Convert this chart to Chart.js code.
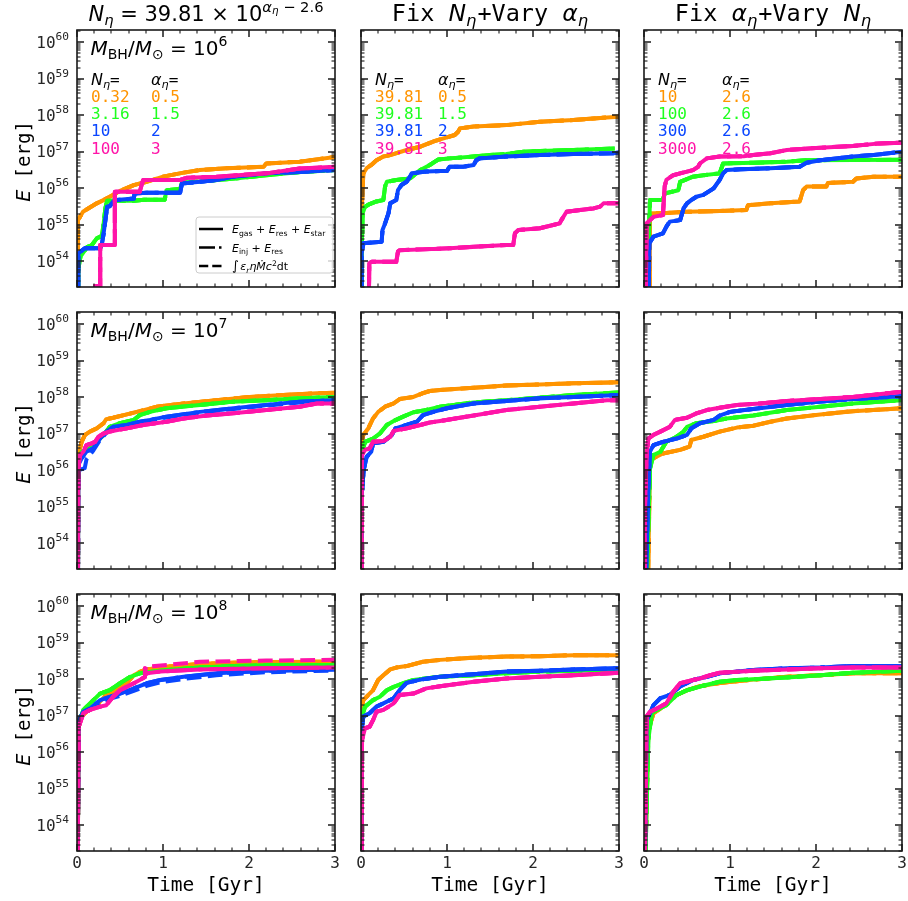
<!DOCTYPE html>
<html>
<head>
<meta charset="utf-8">
<script src="https://cdn.jsdelivr.net/npm/chart.js@4.4.1/dist/chart.umd.min.js"></script>
<style>
  html, body { margin: 0; padding: 0; background: #fff; }
  #fig { position: relative; width: 908px; height: 901px; overflow: hidden; }
  #fig canvas { position: absolute; left: 0; top: 0; }
</style>
</head>
<body>
<div id="fig"></div>
<script>
// ---------------------------------------------------------------------------
// Cumulative feedback energy E [erg] versus time [Gyr].
// Rows: black-hole mass 1e6, 1e7, 1e8 Msun.
// Columns: scaling relation, fixed N_eta, fixed alpha_eta.
// Each series is a list of [time (Gyr), energy (erg)] samples.
// ---------------------------------------------------------------------------

// ---- M_BH = 1e6, N_eta = 39.81 x 10^(alpha_eta - 2.6) ----
const bh6_scaling_orange = [[0.005,1e52],[0.01,1.35e55],[0.035,1.66e55],[0.07,2.29e55],[0.13,2.82e55],[0.23,3.89e55],[0.31,4.79e55],[0.38,5.89e55],[0.5,8.51e55],[0.66,1.23e56],[0.81,1.51e56],[1.0,2.09e56],[1.24,2.69e56],[1.43,3.16e56],[1.74,3.55e56],[2.17,3.89e56],[2.2,4.79e56],[2.59,5.37e56],[3.0,7.24e56]];
const bh6_scaling_green  = [[0.012,1e52],[0.015,6.03e53],[0.04,1.35e54],[0.12,2.51e54],[0.17,2.75e54],[0.23,4.27e54],[0.29,5.01e54],[0.31,1.1e55],[0.33,2.82e55],[0.35,4.57e55],[0.66,4.57e55],[0.78,4.9e55],[1.02,4.9e55],[1.04,8.91e55],[1.2,9.55e55],[1.22,1.41e56],[1.43,1.55e56],[1.8,1.82e56],[2.2,2.29e56],[2.6,2.82e56],[3.0,3.16e56]];
const bh6_scaling_blue   = [[0.012,1e52],[0.016,1.66e54],[0.09,2.29e54],[0.27,2.29e54],[0.29,3.09e54],[0.31,5.89e54],[0.34,2.04e55],[0.35,3.16e55],[0.38,3.24e55],[0.42,4.27e55],[0.46,4.79e55],[0.66,5.25e55],[0.67,7.24e55],[0.81,7.59e55],[1.2,7.59e55],[1.22,1.35e56],[1.43,1.51e56],[1.62,1.7e56],[1.82,2.09e56],[2.2,2.57e56],[2.59,2.82e56],[3.0,3.16e56]];
const bh6_scaling_magenta= [[0.19,2.1e53],[0.27,2.1e53],[0.27,2.82e54],[0.44,2.82e54],[0.44,8.13e55],[0.73,8.13e55],[0.75,1.2e56],[0.77,1.7e56],[1.2,1.7e56],[1.28,1.95e56],[1.62,2.09e56],[2.2,2.57e56],[2.59,3.47e56],[3.0,3.89e56]];

// ---- M_BH = 1e6, fixed N_eta ----
const bh6_fixN_orange = [[0.005,1e52],[0.008,2.57e55],[0.027,2.57e56],[0.066,3.55e56],[0.12,4.37e56],[0.18,5.89e56],[0.26,7.41e56],[0.34,8.13e56],[0.53,1.12e57],[0.69,1.38e57],[0.84,1.91e57],[0.96,2.34e57],[1.09,2.88e57],[1.13,3.55e57],[1.15,4.37e57],[1.31,4.9e57],[1.69,5.37e57],[2.08,6.61e57],[2.47,7.41e57],[2.86,8.71e57],[3.0,9.12e57]];
const bh6_fixN_green  = [[0.008,1e52],[0.012,5.89e54],[0.019,2.09e55],[0.047,3.16e55],[0.1,3.72e55],[0.18,4.37e55],[0.26,4.79e55],[0.28,1.12e56],[0.3,1.51e56],[0.41,1.7e56],[0.57,1.86e56],[0.69,3.16e56],[0.8,4.37e56],[0.86,5.37e56],[0.9,6.17e56],[1.03,6.61e56],[1.31,7.41e56],[1.5,8.13e56],[1.69,8.71e56],[1.89,1.0e57],[2.08,1.05e57],[2.47,1.12e57],[2.95,1.23e57]];
const bh6_fixN_blue   = [[0.005,1e52],[0.008,1.66e54],[0.027,3.16e54],[0.24,3.47e54],[0.25,7.24e54],[0.28,1.1e55],[0.32,2.09e55],[0.34,3.89e55],[0.41,4.79e55],[0.43,8.91e55],[0.47,1.23e56],[0.53,1.51e56],[0.57,2.09e56],[0.59,2.57e56],[0.76,2.88e56],[1.0,3.02e56],[1.03,3.89e56],[1.19,3.89e56],[1.31,4.37e56],[1.34,5.89e56],[1.38,6.61e56],[1.69,7.41e56],[2.08,8.13e56],[2.47,8.71e56],[2.93,9.12e56],[3.0,9.55e56]];
const bh6_fixN_magenta= [[0.085,1e52],[0.097,8.91e53],[0.12,9.77e53],[0.41,9.77e53],[0.43,1.86e54],[0.45,2.04e54],[0.72,2.14e54],[1.03,2.29e54],[1.31,2.51e54],[1.69,2.82e54],[1.77,2.82e54],[1.79,5.89e54],[1.83,7.24e54],[2.08,8.13e54],[2.31,1.1e55],[2.33,1.35e55],[2.39,2.29e55],[2.55,2.57e55],[2.7,2.82e55],[2.78,3.16e55],[2.82,3.89e55],[3.0,3.89e55]];

// ---- M_BH = 1e6, fixed alpha_eta ----
const bh6_fixAlpha_orange = [[0.062,1e52],[0.07,2.09e55],[0.22,2.09e55],[0.5,2.29e55],[0.88,2.4e55],[1.19,2.57e55],[1.21,3.47e55],[1.47,3.89e55],[1.81,4.37e55],[1.85,8.91e55],[1.89,1.12e56],[2.12,1.12e56],[2.14,1.41e56],[2.43,1.51e56],[2.47,1.86e56],[2.67,2.09e56],[3.0,2.09e56]];
const bh6_fixAlpha_green  = [[0.05,1e52],[0.06,1.0e55],[0.07,4.79e55],[0.22,4.79e55],[0.24,7.24e55],[0.4,8.91e55],[0.42,1.51e56],[0.57,2.09e56],[0.69,2.29e56],[0.88,2.57e56],[0.92,4.79e56],[1.27,5.01e56],[1.66,5.37e56],[1.89,5.89e56],[3.0,6.03e56]];
const bh6_fixAlpha_blue   = [[0.05,1e52],[0.062,3.16e54],[0.11,4.79e54],[0.22,5.89e54],[0.26,8.91e54],[0.3,1.23e55],[0.42,1.35e55],[0.46,2.82e55],[0.5,3.89e55],[0.55,4.79e55],[0.61,5.89e55],[0.69,6.61e55],[0.75,8.13e55],[0.81,1.0e56],[0.88,1.7e56],[0.92,2.57e56],[0.96,3.16e56],[1.12,3.31e56],[1.47,3.55e56],[1.81,3.89e56],[1.89,5.01e56],[2.05,5.89e56],[2.43,7.41e56],[2.67,8.13e56],[3.0,1.0e57]];
const bh6_fixAlpha_magenta= [[0.015,1e52],[0.03,1.1e55],[0.07,1.35e55],[0.11,1.66e55],[0.22,1.86e55],[0.24,1.12e56],[0.26,1.7e56],[0.34,2.29e56],[0.42,2.57e56],[0.5,2.88e56],[0.57,3.16e56],[0.63,3.89e56],[0.65,4.79e56],[0.73,6.61e56],[0.88,7.41e56],[1.16,7.59e56],[1.27,8.13e56],[1.47,9.12e56],[1.66,1.12e57],[2.05,1.29e57],[2.43,1.45e57],[2.74,1.7e57],[3.0,1.78e57]];

// ---- M_BH = 1e7, scaling relation ----
const bh7_scaling_orange = [[0.005,1e52],[0.012,1.74e56],[0.027,3.24e56],[0.054,6.03e56],[0.093,9.33e56],[0.15,1.15e57],[0.23,1.41e57],[0.31,1.95e57],[0.34,2.51e57],[0.42,2.75e57],[0.58,3.39e57],[0.73,4.17e57],[0.93,5.5e57],[1.24,6.76e57],[1.62,8.32e57],[2.01,1.02e58],[2.4,1.15e58],[2.79,1.29e58],[3.0,1.32e58]];
const bh7_scaling_green  = [[0.01,1e52],[0.016,1.74e56],[0.054,3.24e56],[0.15,3.98e56],[0.23,6.03e56],[0.31,9.33e56],[0.38,1.55e57],[0.5,1.95e57],[0.66,2.4e57],[0.73,3.24e57],[0.85,3.98e57],[1.04,5.01e57],[1.43,6.17e57],[1.82,7.59e57],[2.2,8.32e57],[2.59,9.33e57],[3.0,1.02e58]];
const bh7_scaling_blue   = [[0.01,1e52],[0.016,1.41e56],[0.054,2.14e56],[0.11,3.24e56],[0.19,3.98e56],[0.27,7.59e56],[0.34,1.15e57],[0.42,1.55e57],[0.58,1.74e57],[0.73,2.14e57],[0.85,2.4e57],[1.04,2.95e57],[1.43,3.98e57],[1.82,5.01e57],[2.2,6.17e57],[2.59,7.59e57],[3.0,8.32e57]];
const bh7_scaling_blue_integral = [[0.01,1e52],[0.016,1.0e56],[0.09,1.15e56],[0.11,2.0e56],[0.19,3.5e56],[0.27,6.9e56],[0.34,1.05e57],[0.42,1.45e57],[0.58,1.66e57],[0.73,2.0e57],[0.85,2.3e57],[1.04,2.8e57],[1.43,3.8e57],[1.82,4.8e57],[2.2,5.9e57],[2.59,7.2e57],[3.0,8.0e57]];
const bh7_scaling_magenta= [[0.01,1e52],[0.016,1.12e56],[0.035,2.63e56],[0.074,3.24e56],[0.11,4.9e56],[0.17,5.5e56],[0.21,6.03e56],[0.25,8.32e56],[0.31,1.02e57],[0.38,1.15e57],[0.58,1.41e57],[0.77,1.74e57],[1.04,2.14e57],[1.24,2.63e57],[1.51,3.16e57],[1.82,3.63e57],[2.2,4.47e57],[2.59,5.5e57],[2.79,6.76e57],[3.0,6.76e57]];

// ---- M_BH = 1e7, fixed N_eta ----
const bh7_fixN_orange = [[0.005,1e52],[0.008,6.03e56],[0.027,9.33e56],[0.085,1.41e57],[0.14,2.63e57],[0.2,3.98e57],[0.28,5.5e57],[0.38,6.76e57],[0.45,8.91e57],[0.61,1.02e58],[0.72,1.29e58],[0.8,1.48e58],[0.92,1.58e58],[1.31,1.82e58],[1.69,2.09e58],[2.08,2.24e58],[2.47,2.4e58],[3.0,2.57e58]];
const bh7_fixN_green  = [[0.008,1e52],[0.012,3.24e56],[0.047,6.03e56],[0.14,7.41e56],[0.22,1.02e57],[0.3,1.74e57],[0.38,2.24e57],[0.49,2.95e57],[0.61,3.89e57],[0.76,4.47e57],[0.92,5.5e57],[1.31,7.24e57],[1.69,8.32e57],[2.08,9.77e57],[2.47,1.15e58],[3.0,1.35e58]];
const bh7_fixN_blue   = [[0.005,1e52],[0.012,3.0e55],[0.019,4.9e55],[0.035,1.12e56],[0.066,2.34e56],[0.12,3.24e56],[0.14,5.5e56],[0.26,6.03e56],[0.36,9.33e56],[0.4,1.41e57],[0.53,1.74e57],[0.65,2.14e57],[0.72,3.24e57],[0.84,3.98e57],[1.0,5.01e57],[1.31,6.76e57],[1.69,7.94e57],[2.08,9.33e57],[2.47,1.02e58],[3.0,1.15e58]];
const bh7_fixN_magenta= [[0.005,1e52],[0.012,2.63e56],[0.047,3.63e56],[0.1,3.98e56],[0.14,6.03e56],[0.26,6.31e56],[0.34,8.32e56],[0.38,1.2e57],[0.53,1.41e57],[0.69,1.74e57],[0.8,2.04e57],[0.92,2.24e57],[1.31,3.16e57],[1.69,4.47e57],[2.08,5.5e57],[2.47,6.76e57],[2.86,8.32e57],[3.0,8.32e57]];

// ---- M_BH = 1e7, fixed alpha_eta ----
const bh7_fixAlpha_orange = [[0.04,1e52],[0.07,1.74e56],[0.11,2.14e56],[0.22,2.88e56],[0.42,3.63e56],[0.53,4.47e56],[0.55,6.76e56],[0.69,8.32e56],[0.88,1.15e57],[1.08,1.48e57],[1.27,1.66e57],[1.47,2.14e57],[1.66,2.63e57],[2.05,3.39e57],[2.43,4.17e57],[3.0,5.01e57]];
const bh7_fixAlpha_green  = [[0.02,1e52],[0.07,1.12e56],[0.11,2.63e56],[0.19,3.24e56],[0.26,6.03e56],[0.38,8.32e56],[0.46,1.15e57],[0.5,1.55e57],[0.61,1.95e57],[0.81,2.24e57],[0.96,2.63e57],[1.27,3.16e57],[1.66,4.47e57],[2.05,5.5e57],[2.43,6.76e57],[3.0,8.32e57]];
const bh7_fixAlpha_blue   = [[0.012,1e52],[0.05,3.24e55],[0.07,3.24e56],[0.11,4.9e56],[0.22,6.03e56],[0.38,7.41e56],[0.5,9.33e56],[0.55,1.41e57],[0.65,1.95e57],[0.81,2.4e57],[0.88,3.16e57],[1.0,3.98e57],[1.27,4.79e57],[1.66,6.17e57],[2.05,7.59e57],[2.43,8.91e57],[3.0,1.07e58]];
const bh7_fixAlpha_magenta= [[0.005,1e52],[0.012,1.0e55],[0.03,2.63e56],[0.05,7.41e56],[0.11,9.33e56],[0.19,1.15e57],[0.3,1.55e57],[0.36,2.4e57],[0.5,2.75e57],[0.61,3.63e57],[0.73,4.47e57],[0.88,5.13e57],[1.08,6.17e57],[1.35,6.76e57],[1.66,7.94e57],[2.05,8.91e57],[2.43,1.02e58],[3.0,1.41e58]];

// ---- M_BH = 1e8, scaling relation ----
const bh8_scaling_orange = [[0.005,1e52],[0.02,5.01e56],[0.054,9.55e56],[0.11,1.29e57],[0.23,1.95e57],[0.34,3.72e57],[0.46,5.01e57],[0.58,7.76e57],[0.66,1.29e58],[0.73,1.58e58],[0.81,1.86e58],[0.93,2.0e58],[1.04,2.19e58],[1.43,2.63e58],[1.82,2.82e58],[2.2,2.95e58],[3.0,3.02e58]];
const bh8_scaling_green  = [[0.005,1e52],[0.02,6.17e56],[0.074,1.45e57],[0.19,2.69e57],[0.27,4.07e57],[0.38,5.01e57],[0.5,7.76e57],[0.62,1.17e58],[0.73,1.45e58],[0.89,1.62e58],[1.04,1.78e58],[1.43,2.09e58],[1.82,2.29e58],[2.2,2.4e58],[3.0,2.45e58]];
const bh8_scaling_blue   = [[0.005,1e52],[0.02,7.59e56],[0.074,1.29e57],[0.15,1.58e57],[0.27,2.69e57],[0.38,3.31e57],[0.5,4.07e57],[0.66,5.62e57],[0.81,7.76e57],[0.97,9.55e57],[1.24,1.17e58],[1.62,1.45e58],[2.2,1.7e58],[3.0,1.86e58]];
const bh8_scaling_blue_integral = [[0.005,1e52],[0.02,7.0e56],[0.074,1.2e57],[0.15,1.45e57],[0.27,2.3e57],[0.38,2.9e57],[0.5,3.5e57],[0.66,4.8e57],[0.81,6.6e57],[0.97,8.3e57],[1.24,1.02e58],[1.62,1.29e58],[2.2,1.55e58],[3.0,1.74e58]];
const bh8_scaling_magenta= [[0.005,1e52],[0.02,5.01e56],[0.074,1.17e57],[0.15,1.45e57],[0.27,1.78e57],[0.34,1.95e57],[0.42,3.31e57],[0.5,5.01e57],[0.66,7.76e57],[0.73,9.55e57],[0.79,1.15e58],[0.79,2.0e58],[0.795,1.3e58],[0.81,1.45e58],[0.97,1.62e58],[1.43,1.86e58],[2.2,2.0e58],[3.0,2.09e58]];
const bh8_scaling_magenta_integral = [[0.005,1e52],[0.02,5.01e56],[0.074,1.17e57],[0.15,1.45e57],[0.27,1.78e57],[0.34,1.95e57],[0.42,3.31e57],[0.5,5.01e57],[0.66,7.76e57],[0.73,9.55e57],[0.79,1.15e58],[0.8,2.19e58],[1.04,2.45e58],[1.43,3.02e58],[2.2,3.24e58],[3.0,3.39e58]];

// ---- M_BH = 1e8, fixed N_eta ----
const bh8_fixN_orange = [[0.005,1e52],[0.008,1.45e57],[0.027,2.69e57],[0.085,3.72e57],[0.14,5.01e57],[0.2,9.55e57],[0.26,1.29e58],[0.34,1.86e58],[0.41,2.09e58],[0.53,2.29e58],[0.72,3.02e58],[0.92,3.39e58],[1.31,3.89e58],[1.69,4.17e58],[2.08,4.27e58],[2.47,4.57e58],[3.0,4.57e58]];
const bh8_fixN_green  = [[0.005,1e52],[0.012,9.55e56],[0.047,1.78e57],[0.14,2.69e57],[0.22,3.31e57],[0.3,5.01e57],[0.38,6.17e57],[0.49,7.76e57],[0.61,9.55e57],[0.92,1.17e58],[1.31,1.29e58],[1.69,1.45e58],[2.08,1.62e58],[2.47,1.7e58],[3.0,1.86e58]];
const bh8_fixN_blue   = [[0.005,1e52],[0.012,5.01e56],[0.027,9.55e56],[0.1,1.17e57],[0.18,1.78e57],[0.26,2.19e57],[0.38,3.02e57],[0.45,5.01e57],[0.53,7.94e57],[0.69,9.77e57],[0.92,1.17e58],[1.31,1.38e58],[1.69,1.62e58],[2.08,1.7e58],[2.47,1.86e58],[3.0,2.0e58]];
const bh8_fixN_magenta= [[0.005,1e52],[0.012,2.19e56],[0.047,4.57e56],[0.1,5.01e56],[0.14,7.59e56],[0.18,1.29e57],[0.26,1.45e57],[0.38,2.19e57],[0.45,3.72e57],[0.61,4.07e57],[0.76,5.62e57],[0.92,6.46e57],[1.31,8.51e57],[1.69,1.05e58],[2.08,1.17e58],[2.47,1.29e58],[3.0,1.51e58]];

// ---- M_BH = 1e8, fixed alpha_eta ----
const bh8_fixAlpha_orange = [[0.005,1e52],[0.05,4.07e56],[0.11,1.17e57],[0.19,1.58e57],[0.26,2.19e57],[0.38,3.72e57],[0.5,5.01e57],[0.65,6.46e57],[0.88,7.94e57],[1.27,9.77e57],[1.66,1.17e58],[2.05,1.29e58],[2.43,1.45e58],[3.0,1.45e58]];
const bh8_fixAlpha_green  = [[0.005,1e52],[0.05,2.19e56],[0.09,1.17e57],[0.15,1.45e57],[0.26,1.95e57],[0.38,3.72e57],[0.5,5.01e57],[0.65,6.31e57],[0.88,8.51e57],[1.08,9.55e57],[1.27,1.0e58],[1.66,1.12e58],[2.05,1.29e58],[2.43,1.51e58],[3.0,1.7e58]];
const bh8_fixAlpha_blue   = [[0.005,1e52],[0.03,7.59e56],[0.07,1.17e57],[0.11,1.95e57],[0.19,3.02e57],[0.3,3.72e57],[0.42,6.31e57],[0.57,9.55e57],[0.73,1.17e58],[0.88,1.45e58],[1.27,1.78e58],[1.66,2.0e58],[2.05,2.09e58],[2.43,2.29e58],[3.0,2.29e58]];
const bh8_fixAlpha_magenta= [[0.005,1e52],[0.03,9.55e56],[0.07,1.29e57],[0.15,1.58e57],[0.26,2.19e57],[0.34,4.57e57],[0.42,7.76e57],[0.57,9.55e57],[0.65,1.05e58],[0.77,1.29e58],[0.88,1.51e58],[1.27,1.7e58],[1.66,1.86e58],[2.05,2.0e58],[2.43,2.09e58],[3.0,2.09e58]];

// ---- axis ranges, ticks and text ----
const TIME_RANGE = [0, 3];
const TIME_TICKS = [0, 1, 2, 3];
const ENERGY_RANGE = [2e53, 2.15e60];
const ENERGY_DECADES = [54, 55, 56, 57, 58, 59, 60];
const MASS_EXPONENTS = [6, 7, 8];
const N_ETA_LABELS = [['0.32', '3.16', '10', '100'], ['39.81', '39.81', '39.81', '39.81'], ['10', '100', '300', '3000']];
const ALPHA_ETA_LABELS = [['0.5', '1.5', '2', '3'], ['0.5', '1.5', '2', '3'], ['2.6', '2.6', '2.6', '2.6']];

// Each panel: solid = E_gas+E_res+E_star, dashdot = E_inj+E_res, dashed = integral.
const panels = [
  { row: 0, col: 0,
    solid:   [bh6_scaling_orange, bh6_scaling_green, bh6_scaling_blue, bh6_scaling_magenta],
    dashdot: [bh6_scaling_orange, bh6_scaling_green, bh6_scaling_blue, bh6_scaling_magenta],
    dashed:  [bh6_scaling_orange, bh6_scaling_green, bh6_scaling_blue, bh6_scaling_magenta] },
  { row: 0, col: 1,
    solid:   [bh6_fixN_orange, bh6_fixN_green, bh6_fixN_blue, bh6_fixN_magenta],
    dashdot: [bh6_fixN_orange, bh6_fixN_green, bh6_fixN_blue, bh6_fixN_magenta],
    dashed:  [bh6_fixN_orange, bh6_fixN_green, bh6_fixN_blue, bh6_fixN_magenta] },
  { row: 0, col: 2,
    solid:   [bh6_fixAlpha_orange, bh6_fixAlpha_green, bh6_fixAlpha_blue, bh6_fixAlpha_magenta],
    dashdot: [bh6_fixAlpha_orange, bh6_fixAlpha_green, bh6_fixAlpha_blue, bh6_fixAlpha_magenta],
    dashed:  [bh6_fixAlpha_orange, bh6_fixAlpha_green, bh6_fixAlpha_blue, bh6_fixAlpha_magenta] },
  { row: 1, col: 0,
    solid:   [bh7_scaling_orange, bh7_scaling_green, bh7_scaling_blue, bh7_scaling_magenta],
    dashdot: [bh7_scaling_orange, bh7_scaling_green, bh7_scaling_blue, bh7_scaling_magenta],
    dashed:  [bh7_scaling_orange, bh7_scaling_green, bh7_scaling_blue_integral, bh7_scaling_magenta] },
  { row: 1, col: 1,
    solid:   [bh7_fixN_orange, bh7_fixN_green, bh7_fixN_blue, bh7_fixN_magenta],
    dashdot: [bh7_fixN_orange, bh7_fixN_green, bh7_fixN_blue, bh7_fixN_magenta],
    dashed:  [bh7_fixN_orange, bh7_fixN_green, bh7_fixN_blue, bh7_fixN_magenta] },
  { row: 1, col: 2,
    solid:   [bh7_fixAlpha_orange, bh7_fixAlpha_green, bh7_fixAlpha_blue, bh7_fixAlpha_magenta],
    dashdot: [bh7_fixAlpha_orange, bh7_fixAlpha_green, bh7_fixAlpha_blue, bh7_fixAlpha_magenta],
    dashed:  [bh7_fixAlpha_orange, bh7_fixAlpha_green, bh7_fixAlpha_blue, bh7_fixAlpha_magenta] },
  { row: 2, col: 0,
    solid:   [bh8_scaling_orange, bh8_scaling_green, bh8_scaling_blue, bh8_scaling_magenta],
    dashdot: [bh8_scaling_orange, bh8_scaling_green, bh8_scaling_blue, bh8_scaling_magenta],
    dashed:  [bh8_scaling_orange, bh8_scaling_green, bh8_scaling_blue_integral, bh8_scaling_magenta_integral] },
  { row: 2, col: 1,
    solid:   [bh8_fixN_orange, bh8_fixN_green, bh8_fixN_blue, bh8_fixN_magenta],
    dashdot: [bh8_fixN_orange, bh8_fixN_green, bh8_fixN_blue, bh8_fixN_magenta],
    dashed:  [bh8_fixN_orange, bh8_fixN_green, bh8_fixN_blue, bh8_fixN_magenta] },
  { row: 2, col: 2,
    solid:   [bh8_fixAlpha_orange, bh8_fixAlpha_green, bh8_fixAlpha_blue, bh8_fixAlpha_magenta],
    dashdot: [bh8_fixAlpha_orange, bh8_fixAlpha_green, bh8_fixAlpha_blue, bh8_fixAlpha_magenta],
    dashed:  [bh8_fixAlpha_orange, bh8_fixAlpha_green, bh8_fixAlpha_blue, bh8_fixAlpha_magenta] }
];

// ---- styling / layout ----
const FIG_W = 908, FIG_H = 901;
const COL_LEFT = [77, 361, 644], PANEL_W = 258;
const ROW_TOP = [30, 312, 594], PANEL_H = 257;
const SERIES_COLORS = ['#ff9400', '#1eff1e', '#0a46ff', '#ff14a8'];
const LINE_W = 4;
const DASHES = { solid: [], dashdot: [25.6, 6.4, 4, 6.4], dashed: [14.8, 6.4] };
const ALPHA_COL_X = [74, 77, 78];
const MONO = "'DejaVu Sans Mono'";
const SANS = "'DejaVu Sans'";
const F = (px, fam, style) => (style ? style + ' ' : '') + px + 'px ' + fam;

function runsWidth(ctx, runs) {
  let w = 0;
  for (const r of runs) { ctx.font = r.font; w += ctx.measureText(r.text).width + (r.kern || 0); }
  return w;
}
function drawRuns(ctx, runs, x, y, align, color) {
  const w = runsWidth(ctx, runs);
  let cx = align === 'center' ? x - w / 2 : (align === 'right' ? x - w : x);
  ctx.textAlign = 'left';
  ctx.textBaseline = 'alphabetic';
  for (const r of runs) {
    ctx.font = r.font;
    ctx.fillStyle = r.color || color || '#000';
    ctx.fillText(r.text, cx, y + (r.dy || 0));
    cx += ctx.measureText(r.text).width + (r.kern || 0);
  }
}

function titleRuns(col) {
  if (col === 0) {
    return [
      { text: 'N', font: F(21, SANS, 'italic') },
      { text: 'η', font: F(14.7, SANS, 'italic'), dy: 4 },
      { text: ' = 39.81 × 10', font: F(21, SANS) },
      { text: 'α', font: F(14.7, SANS, 'italic'), dy: -9.5 },
      { text: 'η', font: F(10.3, SANS, 'italic'), dy: -7 },
      { text: ' − 2.6', font: F(14.7, SANS), dy: -9.5 }
    ];
  }
  const first = col === 1 ? 'N' : 'α', second = col === 1 ? 'α' : 'N';
  return [
    { text: 'Fix ', font: F(23.5, MONO) },
    { text: first, font: F(23.5, SANS, 'italic') },
    { text: 'η', font: F(16.4, SANS, 'italic'), dy: 4.5, kern: 1 },
    { text: '+Vary ', font: F(23.5, MONO) },
    { text: second, font: F(23.5, SANS, 'italic') },
    { text: 'η', font: F(16.4, SANS, 'italic'), dy: 4.5 }
  ];
}

function strokeLine(ctx, x0, y0, x1, y1) {
  ctx.beginPath(); ctx.moveTo(x0, y0); ctx.lineTo(x1, y1); ctx.stroke();
}

const panelDecor = {
  id: 'panelDecor',
  afterDatasetsDraw(chart, _args, opts) {
    const { ctx, chartArea: A, scales } = chart;
    const xs = scales.x, ys = scales.y;
    const row = opts.row, col = opts.col;
    ctx.save();

    // frame
    ctx.strokeStyle = '#1a1a1a';
    ctx.lineWidth = 1.6;
    ctx.strokeRect(A.left, A.top, A.right - A.left, A.bottom - A.top);

    // inward ticks on all four sides
    const tick = (px, horizontal, len, w) => {
      ctx.lineWidth = w;
      if (horizontal) {
        strokeLine(ctx, px, A.bottom, px, A.bottom - len);
        strokeLine(ctx, px, A.top, px, A.top + len);
      } else {
        strokeLine(ctx, A.left, px, A.left + len, px);
        strokeLine(ctx, A.right, px, A.right - len, px);
      }
    };
    for (let k = 1; k < (TIME_RANGE[1] - TIME_RANGE[0]) * 5; k++) {
      if (k % 5 === 0) continue;
      tick(Math.round(xs.getPixelForValue(TIME_RANGE[0] + k * 0.2)), true, 3.5, 1.1);
    }
    for (const t of TIME_TICKS) tick(Math.round(xs.getPixelForValue(t)), true, 7, 1.5);
    for (let e = 53; e <= 60; e++) {
      for (let m = 1; m <= 9; m++) {
        const v = m * Math.pow(10, e);
        if (v < ENERGY_RANGE[0] || v > ENERGY_RANGE[1]) continue;
        const py = Math.round(ys.getPixelForValue(v));
        if (m === 1) tick(py, false, 7, 1.5); else tick(py, false, 3.5, 1.1);
      }
    }

    // y tick labels and label (first column)
    if (col === 0) {
      for (const e of ENERGY_DECADES) {
        const py = ys.getPixelForValue(Math.pow(10, e));
        drawRuns(ctx, [
          { text: '10', font: F(16, MONO) },
          { text: String(e), font: F(11.2, MONO), dy: -7.5 }
        ], A.left - 8, py + 5.5, 'right', '#262626');
      }
      ctx.save();
      ctx.translate(A.left - 47, (A.top + A.bottom) / 2 + 3);
      ctx.rotate(-Math.PI / 2);
      drawRuns(ctx, [
        { text: 'E', font: F(19, SANS, 'italic') },
        { text: ' [erg]', font: F(19, MONO) }
      ], 0, 0, 'center', '#000');
      ctx.restore();
    }

    // x tick labels and label (bottom row)
    if (row === 2) {
      ctx.font = F(16, MONO);
      ctx.fillStyle = '#262626';
      ctx.textAlign = 'center';
      ctx.textBaseline = 'alphabetic';
      for (const t of TIME_TICKS) ctx.fillText(String(t), xs.getPixelForValue(t), A.bottom + 17);
      drawRuns(ctx, [{ text: 'Time [Gyr]', font: F(19.5, MONO) }], (A.left + A.right) / 2, A.bottom + 40, 'center', '#000');
    }

    // column titles (top row)
    if (row === 0) {
      drawRuns(ctx, titleRuns(col), (A.left + A.right) / 2, A.top - 9, 'center', '#000');
    }

    // black-hole mass annotation (first column)
    if (col === 0) {
      drawRuns(ctx, [
        { text: 'M', font: F(20, SANS, 'italic') },
        { text: 'BH', font: F(14, SANS), dy: 4 },
        { text: '/', font: F(20, SANS) },
        { text: 'M', font: F(20, SANS, 'italic') },
        { text: '⊙', font: F(14, SANS), dy: 4 },
        { text: ' = 10', font: F(20, SANS) },
        { text: String(MASS_EXPONENTS[row]), font: F(14, SANS), dy: -9 }
      ], A.left + 13.5, A.top + 25, 'left', '#000');
    }

    // parameter table (top row)
    if (row === 0) {
      const nx = A.left + 14, ax = A.left + ALPHA_COL_X[col];
      const head = A.top + 54.5;
      drawRuns(ctx, [
        { text: 'N', font: F(16, SANS, 'italic') },
        { text: 'η', font: F(11.2, SANS, 'italic'), dy: 3.5 },
        { text: '=', font: F(16, MONO) }
      ], nx, head, 'left', '#000');
      drawRuns(ctx, [
        { text: 'α', font: F(16, SANS, 'italic') },
        { text: 'η', font: F(11.2, SANS, 'italic'), dy: 3.5 },
        { text: '=', font: F(16, MONO) }
      ], ax, head, 'left', '#000');
      for (let i = 0; i < 4; i++) {
        const by = A.top + 71.7 + i * 17.3;
        drawRuns(ctx, [{ text: N_ETA_LABELS[col][i], font: F(16, MONO) }], nx, by, 'left', SERIES_COLORS[i]);
        drawRuns(ctx, [{ text: ALPHA_ETA_LABELS[col][i], font: F(16, MONO) }], ax, by, 'left', SERIES_COLORS[i]);
      }
    }

    // line-style legend (first panel)
    if (row === 0 && col === 0) {
      const bx = A.left + 119, by = A.top + 187, bw = A.right - 2 - bx, bh = 56, r = 3;
      ctx.beginPath();
      ctx.moveTo(bx + r, by);
      ctx.arcTo(bx + bw, by, bx + bw, by + bh, r);
      ctx.arcTo(bx + bw, by + bh, bx, by + bh, r);
      ctx.arcTo(bx, by + bh, bx, by, r);
      ctx.arcTo(bx, by, bx + bw, by, r);
      ctx.closePath();
      ctx.fillStyle = 'rgba(255,255,255,0.8)';
      ctx.fill();
      ctx.strokeStyle = '#cccccc';
      ctx.lineWidth = 1;
      ctx.stroke();

      const entries = [
        { dash: [], runs: [
          { text: 'E', font: F(11, SANS, 'italic') }, { text: 'gas', font: F(7.7, SANS), dy: 2.5 },
          { text: ' + ', font: F(11, SANS) },
          { text: 'E', font: F(11, SANS, 'italic') }, { text: 'res', font: F(7.7, SANS), dy: 2.5 },
          { text: ' + ', font: F(11, SANS) },
          { text: 'E', font: F(11, SANS, 'italic') }, { text: 'star', font: F(7.7, SANS), dy: 2.5 }
        ] },
        { dash: [16, 4, 2.5, 4], runs: [
          { text: 'E', font: F(11, SANS, 'italic') }, { text: 'inj', font: F(7.7, SANS), dy: 2.5 },
          { text: ' + ', font: F(11, SANS) },
          { text: 'E', font: F(11, SANS, 'italic') }, { text: 'res', font: F(7.7, SANS), dy: 2.5 }
        ] },
        { dash: [9.25, 4], runs: [
          { text: '∫', font: F(13, SANS), kern: 1.5 },
          { text: 'ε', font: F(11, SANS, 'italic') }, { text: 'r', font: F(7.7, SANS, 'italic'), dy: 2.5 },
          { text: 'ηṀc', font: F(11, SANS, 'italic') }, { text: '2', font: F(7.7, SANS), dy: -4.5 },
          { text: 'dt', font: F(11, SANS) }
        ] }
      ];
      entries.forEach((en, i) => {
        const cy = A.top + 199 + i * 18.5;
        ctx.strokeStyle = '#000';
        ctx.lineWidth = 2.5;
        ctx.setLineDash(en.dash);
        strokeLine(ctx, A.left + 122, cy, A.left + 146, cy);
        ctx.setLineDash([]);
        drawRuns(ctx, en.runs, A.left + 155, cy + 4, 'left', '#000');
      });
    }
    ctx.restore();
  }
};

function buildDatasets(p) {
  const list = [];
  for (let i = 0; i < 4; i++) {
    for (const style of ['solid', 'dashdot', 'dashed']) {
      list.push({
        data: p[style][i],
        borderColor: SERIES_COLORS[i],
        borderWidth: LINE_W,
        borderDash: DASHES[style],
        borderJoinStyle: 'round',
        borderCapStyle: 'butt',
        pointRadius: 0,
        fill: false,
        tension: 0,
        clip: 0
      });
    }
  }
  // the library paints the first dataset last, so reverse to keep the later series on top
  return list.reverse();
}

const fig = document.getElementById('fig');
for (const p of panels) {
  const canvas = document.createElement('canvas');
  canvas.width = FIG_W;
  canvas.height = FIG_H;
  canvas.style.width = FIG_W + 'px';
  canvas.style.height = FIG_H + 'px';
  fig.appendChild(canvas);
  const left = COL_LEFT[p.col], top = ROW_TOP[p.row];
  new Chart(canvas, {
    type: 'line',
    data: { datasets: buildDatasets(p) },
    options: {
      responsive: false,
      animation: false,
      events: [],
      devicePixelRatio: 1,
      layout: { padding: { left: left, top: top, right: FIG_W - left - PANEL_W, bottom: FIG_H - top - PANEL_H } },
      scales: {
        x: { type: 'linear', min: TIME_RANGE[0], max: TIME_RANGE[1], display: false },
        y: { type: 'logarithmic', min: ENERGY_RANGE[0], max: ENERGY_RANGE[1], display: false }
      },
      plugins: {
        legend: { display: false },
        tooltip: { enabled: false },
        panelDecor: { row: p.row, col: p.col }
      }
    },
    plugins: [panelDecor]
  });
}
</script>
</body>
</html>
